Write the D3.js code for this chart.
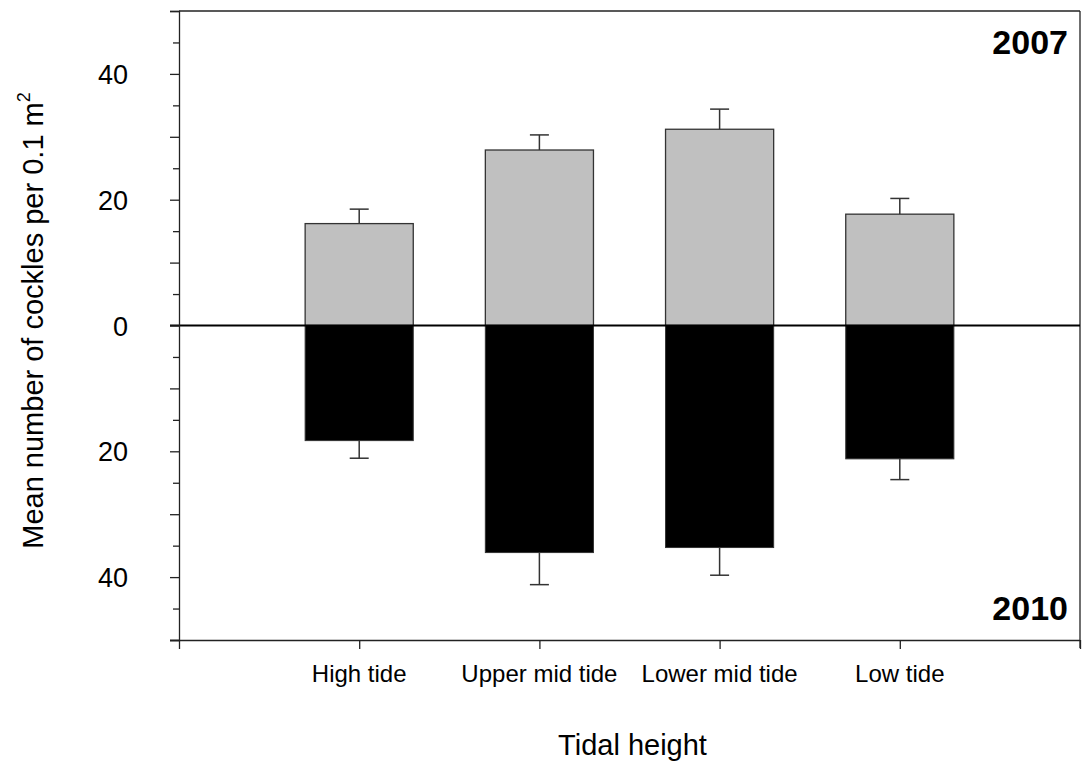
<!DOCTYPE html>
<html>
<head>
<meta charset="utf-8">
<script src="https://cdn.jsdelivr.net/npm/d3@7"></script>
<style>
  body { margin: 0; background: #fff; }
  svg text { font-family: "Liberation Sans", Arial, Helvetica, sans-serif; fill: #000; }
</style>
</head>
<body>
<div id="chart"></div>
<script>
// values
const categories = ["High tide", "Upper mid tide", "Lower mid tide", "Low tide"];
const mean2007 = [16.2, 27.9, 31.2, 17.7];
const se2007 = [2.3, 2.4, 3.2, 2.5];
const mean2010 = [18.3, 36.1, 35.3, 21.2];
const se2010 = [2.8, 5.1, 4.4, 3.3];
const yTicks = [-40, -20, 0, 20, 40];

const width = 1083, height = 775;
const margin = { top: 11, right: 3, bottom: 135, left: 179 };

const svg = d3.select("#chart")
    .append("svg")
    .attr("width", width)
    .attr("height", height);

// x: category i sits at i+1 on a 0..5 linear axis
const scaleX = d3.scaleLinear()
    .domain([0, categories.length + 1])
    .range([margin.left, width - margin.right]);

const scaleY = d3.scaleLinear()
    .domain([-50, 50])
    .range([height - margin.bottom, margin.top]);

const barW = (scaleX(1) - scaleX(0)) * 0.6;
const capW = 19;

// rows: one per category, 2007 up, 2010 down (as negatives)
const rows = categories.map(function (c, i) {
    return { cat: c, pos: i + 1, up: mean2007[i], upErr: se2007[i], down: mean2010[i], downErr: se2010[i] };
});

// frame lines (top / right)
svg.append("line")
    .attr("x1", scaleX(0)).attr("x2", scaleX(5))
    .attr("y1", scaleY(50)).attr("y2", scaleY(50))
    .attr("stroke", "#222").attr("stroke-width", 1.3);
svg.append("line")
    .attr("x1", scaleX(5)).attr("x2", scaleX(5))
    .attr("y1", scaleY(50)).attr("y2", scaleY(-50) + 8)
    .attr("stroke", "#222").attr("stroke-width", 1.3);

// error bars first so the bars cover the stems
const err = svg.append("g").attr("stroke", "#333").attr("stroke-width", 1.5);
rows.forEach(function (d) {
    const cx = scaleX(d.pos);
    err.append("line").attr("x1", cx).attr("x2", cx)
        .attr("y1", scaleY(d.up)).attr("y2", scaleY(d.up + d.upErr));
    err.append("line").attr("x1", cx - capW / 2).attr("x2", cx + capW / 2)
        .attr("y1", scaleY(d.up + d.upErr)).attr("y2", scaleY(d.up + d.upErr));
    err.append("line").attr("x1", cx).attr("x2", cx)
        .attr("y1", scaleY(-d.down)).attr("y2", scaleY(-d.down - d.downErr));
    err.append("line").attr("x1", cx - capW / 2).attr("x2", cx + capW / 2)
        .attr("y1", scaleY(-d.down - d.downErr)).attr("y2", scaleY(-d.down - d.downErr));
});

// 2007 bars (grey, above zero)
svg.selectAll("rect.up")
    .data(rows)
    .enter()
    .append("rect")
    .attr("class", "up")
    .attr("x", function (d) { return scaleX(d.pos) - barW / 2; })
    .attr("y", function (d) { return scaleY(d.up); })
    .attr("width", barW)
    .attr("height", function (d) { return scaleY(0) - scaleY(d.up); })
    .attr("fill", "#c0c0c0")
    .attr("stroke", "#333")
    .attr("stroke-width", 1.3);

// 2010 bars (black, below zero)
svg.selectAll("rect.down")
    .data(rows)
    .enter()
    .append("rect")
    .attr("class", "down")
    .attr("x", function (d) { return scaleX(d.pos) - barW / 2; })
    .attr("y", scaleY(0))
    .attr("width", barW)
    .attr("height", function (d) { return scaleY(-d.down) - scaleY(0); })
    .attr("fill", "#000")
    .attr("stroke", "#333")
    .attr("stroke-width", 1);

// zero line
svg.append("line")
    .attr("x1", scaleX(0) - 9).attr("x2", scaleX(5))
    .attr("y1", scaleY(0)).attr("y2", scaleY(0))
    .attr("stroke", "#000").attr("stroke-width", 1.8);

// y axis: major ticks every 10, minor every 5, labels every 20
const axisY = d3.axisLeft(scaleY)
    .tickValues(d3.range(-50, 51, 10))
    .tickSize(9)
    .tickFormat("");
svg.append("g")
    .attr("transform", `translate(${margin.left},0)`)
    .call(axisY)
    .call(function (g) {
        g.select(".domain").attr("stroke", "#222").attr("stroke-width", 1.3);
        g.selectAll(".tick line").attr("stroke", "#222").attr("stroke-width", 1.3);
    });
svg.append("g")
    .attr("transform", `translate(${margin.left},0)`)
    .call(d3.axisLeft(scaleY).tickValues(d3.range(-45, 50, 10)).tickSize(6).tickFormat(""))
    .call(function (g) {
        g.select(".domain").remove();
        g.selectAll(".tick line").attr("stroke", "#222").attr("stroke-width", 1.3);
    });
svg.append("g")
    .selectAll("text")
    .data(yTicks)
    .enter()
    .append("text")
    .attr("x", margin.left - 51)
    .attr("y", function (d) { return scaleY(d) + 10; })
    .attr("text-anchor", "end")
    .style("font-size", "27px")
    .text(function (d) { return Math.abs(d); });

// x axis at bottom
const axisX = d3.axisBottom(scaleX)
    .tickValues(d3.range(0, 6))
    .tickSize(9)
    .tickFormat("");
svg.append("g")
    .attr("transform", `translate(0,${height - margin.bottom})`)
    .call(axisX)
    .call(function (g) {
        g.select(".domain").attr("stroke", "#222").attr("stroke-width", 1.3)
            .attr("d", `M${scaleX(0) - 9},0.5H${scaleX(5)}`);
        g.selectAll(".tick line").attr("stroke", "#222").attr("stroke-width", 1.3);
    });
svg.append("g")
    .selectAll("text")
    .data(rows)
    .enter()
    .append("text")
    .attr("x", function (d) { return scaleX(d.pos); })
    .attr("y", 682)
    .attr("text-anchor", "middle")
    .style("font-size", "24px")
    .text(function (d) { return d.cat; });

// year labels
svg.append("text")
    .attr("x", 1068).attr("y", 54)
    .attr("text-anchor", "end")
    .style("font-size", "34px").style("font-weight", "bold")
    .text("2007");
svg.append("text")
    .attr("x", 1068).attr("y", 620)
    .attr("text-anchor", "end")
    .style("font-size", "34px").style("font-weight", "bold")
    .text("2010");

// axis titles
svg.append("text")
    .attr("x", (scaleX(0) + scaleX(5)) / 2 + 3)
    .attr("y", 755)
    .attr("text-anchor", "middle")
    .style("font-size", "29px")
    .text("Tidal height");

const yTitle = svg.append("text")
    .attr("transform", `translate(43,${scaleY(0) - 5}) rotate(-90)`)
    .attr("text-anchor", "middle")
    .style("font-size", "29px");
yTitle.append("tspan").text("Mean number of cockles per 0.1 m");
yTitle.append("tspan").attr("dy", -13).style("font-size", "18px").text("2");
</script>
</body>
</html>
